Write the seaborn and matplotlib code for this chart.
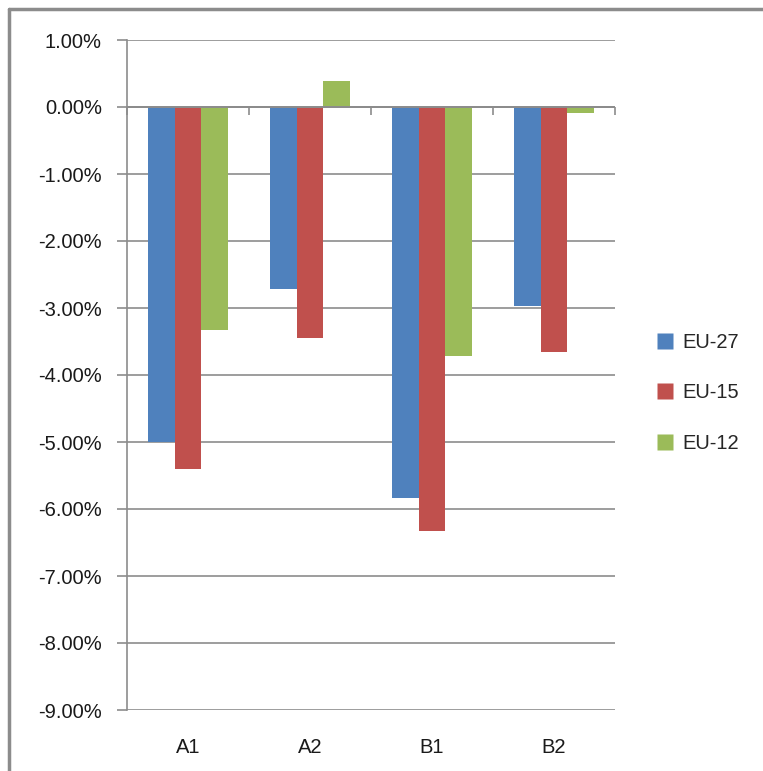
import matplotlib
matplotlib.use("Agg")
import matplotlib.pyplot as plt
import seaborn as sns
import pandas as pd
import numpy as np
from matplotlib.ticker import FuncFormatter, FixedLocator
from matplotlib.lines import Line2D

categories = ["A1", "A2", "B1", "B2"]
series = ["EU-27", "EU-15", "EU-12"]
eu27 = [-5.00, -2.72, -5.84, -2.97]
eu15 = [-5.40, -3.45, -6.33, -3.66]
eu12 = [-3.33, 0.39, -3.72, -0.09]
colors = ["#4F81BD", "#C0504D", "#9BBB59"]
yticks = [1, 0, -1, -2, -3, -4, -5, -6, -7, -8, -9]

df = pd.DataFrame({
    "cat": categories * 3,
    "series": [s for s in series for _ in categories],
    "value": eu27 + eu15 + eu12,
})

sns.set_theme(style="white")
plt.rcParams["font.family"] = ["Liberation Sans", "DejaVu Sans"]

fig = plt.figure(figsize=(7.63, 7.71), dpi=100)
ax = fig.add_axes([127/763, 1-710/771, (615-127)/763, (710-40)/771])

sns.barplot(data=df, x="cat", y="value", hue="series", order=categories,
            hue_order=series, palette=colors, width=0.66, ax=ax,
            saturation=1, edgecolor="none", legend=True)

ax.set_ylim(-9, 1)
ax.set_xlim(-0.5, 3.5)
ax.yaxis.set_major_locator(FixedLocator(yticks))
ax.yaxis.set_major_formatter(FuncFormatter(lambda v, p: f"{v:.2f}%"))
ax.grid(axis="y", color="#8c8c8c", linewidth=1.2)
ax.set_axisbelow(True)
for s in ["top", "right", "bottom"]:
    ax.spines[s].set_visible(False)
ax.spines["left"].set_color("#8c8c8c")
ax.spines["left"].set_linewidth(1.2)
ax.axhline(0, color="#8c8c8c", linewidth=1.4, zorder=3)
# category boundary tick marks on the zero line
ax.vlines(np.arange(-0.5, len(categories)), -0.12, 0.0, color="#8c8c8c",
          linewidth=1.2, zorder=3, clip_on=False)
ax.tick_params(axis="y", length=7, color="#8c8c8c", width=1.2, direction="out",
               left=True, labelsize=14.5, pad=11, labelcolor="#1a1a1a")
ax.tick_params(axis="x", length=0, labelsize=14.5, pad=20, labelcolor="#1a1a1a")
ax.set_xlabel("")
ax.set_ylabel("")

handles = [Line2D([0], [0], marker="s", linestyle="none", markersize=11.5,
                  markerfacecolor=c, markeredgecolor="none") for c in colors]
ax.get_legend().remove()
fig.legend(handles, series, loc="center left", bbox_to_anchor=(637/763, 1-393/771),
           frameon=False, fontsize=14.5, handletextpad=0.35, labelspacing=1.55,
           handlelength=1.0)

# outer frame lines
fig.add_artist(Line2D([9/763, 9/763], [0, 1-9/771], color="#8c8c8c", linewidth=2.5,
                      transform=fig.transFigure))
fig.add_artist(Line2D([9/763, 1], [1-9/771, 1-9/771], color="#8c8c8c", linewidth=2.5,
                      transform=fig.transFigure))

fig.savefig("out.png", dpi=100)
